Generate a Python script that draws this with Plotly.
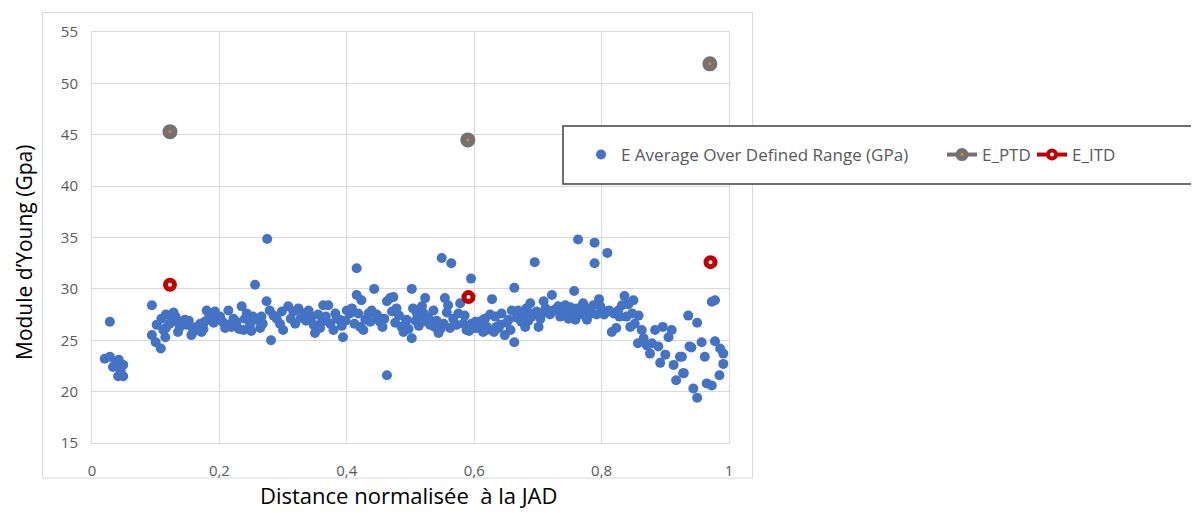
import plotly.graph_objects as go

# ---------------- data ----------------
avg_x = [
    0.020, 0.028, 0.028, 0.033, 0.037, 0.042, 0.041, 0.049, 0.049, 0.045,
    0.094, 0.094, 0.100, 0.108, 0.1015, 0.109, 0.116, 0.128, 0.122, 0.116,
    0.115, 0.133, 0.138, 0.135, 0.146, 0.149, 0.156, 0.159, 0.164, 0.170,
    0.172, 0.177, 0.180, 0.188, 0.193, 0.196, 0.201, 0.209, 0.214, 0.219,
    0.227, 0.235, 0.238, 0.243, 0.248, 0.256, 0.253, 0.266, 0.264, 0.275,
    0.274, 0.279, 0.281, 0.290, 0.295,
    0.300, 0.308, 0.316, 0.324, 0.332, 0.340, 0.345, 0.350, 0.355, 0.361,
    0.363, 0.371, 0.374, 0.379, 0.384, 0.389, 0.394, 0.400, 0.405, 0.408,
    0.4155, 0.4155, 0.423, 0.421, 0.429, 0.434, 0.439, 0.443, 0.447, 0.452,
    0.456, 0.463, 0.468, 0.473, 0.471, 0.478, 0.463, 0.486, 0.489, 0.494,
    0.502, 0.502, 0.504, 0.510, 0.515, 0.518, 0.523, 0.525, 0.531, 0.536,
    0.538, 0.544, 0.549, 0.552, 0.554, 0.559, 0.564, 0.567, 0.572, 0.578,
    0.583, 0.588, 0.595, 0.596, 0.604, 0.609, 0.614, 0.620, 0.628, 0.635,
    0.614, 0.620, 0.633, 0.638, 0.643, 0.648, 0.654, 0.659, 0.663, 0.663,
    0.669, 0.674, 0.680, 0.682, 0.688, 0.693, 0.695, 0.701, 0.706, 0.709,
    0.714, 0.722, 0.724, 0.732, 0.737, 0.743, 0.748, 0.753, 0.757, 0.763,
    0.761, 0.766, 0.771, 0.777, 0.779, 0.789, 0.789, 0.787, 0.796, 0.800,
    0.809, 0.808, 0.816, 0.823, 0.819, 0.826, 0.832, 0.836, 0.839, 0.845,
    0.850, 0.852, 0.857, 0.858, 0.863, 0.866, 0.871, 0.876, 0.879, 0.884,
    0.889, 0.892, 0.896, 0.900, 0.905, 0.910, 0.913, 0.917, 0.923, 0.928,
    0.936, 0.938,
    0.973, 0.978, 0.950, 0.941, 0.957, 0.978, 0.986, 0.991, 0.991, 0.962,
    0.926, 0.929, 0.985, 0.965, 0.973, 0.944, 0.950,
    0.112, 0.125, 0.131, 0.141, 0.152, 0.161, 0.168, 0.175, 0.184, 0.191,
    0.205, 0.212, 0.222, 0.231, 0.240, 0.250, 0.259, 0.268, 0.285, 0.298,
    0.312, 0.319, 0.328, 0.336, 0.348, 0.358, 0.367, 0.382, 0.392, 0.398,
    0.412, 0.418, 0.426, 0.437, 0.450, 0.459, 0.476, 0.482, 0.492, 0.497,
    0.508, 0.513, 0.521, 0.528, 0.541, 0.547, 0.557, 0.562, 0.575, 0.585,
    0.592, 0.599,
    0.602, 0.611, 0.617, 0.625, 0.631, 0.641, 0.651, 0.657, 0.667, 0.677,
    0.685, 0.690, 0.698,
    0.704, 0.712, 0.719, 0.727, 0.735, 0.741, 0.751, 0.759, 0.769, 0.774,
    0.784, 0.792, 0.798,
    0.804, 0.812, 0.828, 0.842, 0.848,
]
avg_y = [
    23.2, 23.4, 26.8, 22.4, 22.8, 23.1, 21.5, 22.6, 21.5, 22.0,
    28.4, 25.5, 24.8, 24.2, 26.5, 27.1, 27.5, 27.7, 26.6, 26.2,
    25.3, 26.8, 26.3, 25.8, 27.0, 26.5, 25.5, 26.0, 26.3, 26.6,
    25.8, 26.8, 27.9, 27.6, 27.8, 27.0, 27.3, 26.2, 27.9, 26.3,
    26.8, 28.3, 26.0, 27.6, 26.5, 30.4, 27.3, 27.3, 26.2, 34.85,
    28.8, 27.9, 25.0, 27.1, 26.6,
    26.0, 28.3, 27.8, 28.1, 27.6, 27.9, 27.3, 25.7, 27.5, 26.8,
    28.4, 28.4, 26.6, 26.0, 27.1, 27.0, 25.3, 27.9, 27.6, 28.1,
    32.0, 29.4, 28.9, 26.3, 27.0, 27.6, 27.9, 30.0, 27.5, 26.8,
    26.3, 28.8, 29.1, 29.2, 27.8, 28.1, 21.6, 26.3, 25.8, 27.0,
    30.0, 25.2, 28.1, 27.6, 27.3, 28.3, 29.1, 26.8, 26.5, 27.9,
    26.3, 25.7, 33.0, 26.6, 29.1, 28.4, 32.5, 27.1, 26.5, 28.6,
    26.6, 26.0, 31.0, 26.6, 26.2, 26.8, 25.8, 26.3, 29.0, 26.3,
    27.0, 26.0, 27.3, 26.2, 27.6, 25.5, 27.0, 27.9, 30.1, 24.8,
    27.9, 26.8, 26.3, 28.1, 28.6, 27.6, 32.6, 26.3, 27.6, 28.8,
    27.9, 29.4, 27.9, 28.3, 27.8, 28.4, 27.1, 27.6, 29.8, 34.8,
    28.1, 27.5, 28.6, 27.0, 27.8, 34.5, 32.5, 28.4, 29.0, 27.9,
    33.5, 27.8, 25.8, 26.2, 27.6, 27.9, 28.4, 29.3, 27.3, 26.3,
    28.9, 26.6, 24.7, 27.4, 26.0, 25.2, 24.5, 23.7, 24.7, 26.0,
    24.4, 22.8, 26.3, 23.6, 25.3, 26.0, 22.6, 21.1, 23.4, 21.8,
    27.4, 24.4,
    28.75, 28.9, 26.7, 24.3, 24.8, 24.9, 24.2, 23.7, 22.7, 23.4,
    23.4, 21.8, 21.6, 20.8, 20.6, 20.3, 19.4,
    26.0, 26.9, 27.3, 26.8, 26.9, 25.9, 26.4, 26.1, 27.3, 26.7,
    26.8, 26.5, 27.1, 26.1, 27.1, 25.9, 27.0, 26.6, 27.4, 27.8,
    27.1, 26.6, 27.2, 26.9, 26.5, 26.2, 27.3, 27.6, 26.4, 26.9,
    26.6, 27.6, 26.0, 26.8, 27.2, 27.1, 26.7, 27.4, 26.6, 26.1,
    26.9, 26.4, 27.6, 27.2, 26.9, 26.1, 27.7, 26.2, 27.6, 27.4,
    25.9, 26.2,
    26.8, 26.5, 27.1, 27.5, 25.8, 26.5, 26.7, 26.0, 27.2, 27.6,
    26.9, 27.3, 27.8,
    27.1, 28.1, 27.5, 28.0, 27.3, 27.8, 28.2, 27.0, 27.9, 28.2,
    27.6, 27.5, 28.3,
    27.5, 27.9, 27.3, 28.5, 27.6,
]

ptd_x = [0.1224, 0.590, 0.970]
ptd_y = [45.3, 44.5, 51.9]

itd_x = [0.1224, 0.591, 0.971]
itd_y = [30.4, 29.2, 32.6]

x_tickvals = [0, 0.2, 0.4, 0.6, 0.8, 1]
x_ticktext = ["0", "0,2", "0,4", "0,6", "0,8", "1"]
y_tickvals = [15, 20, 25, 30, 35, 40, 45, 50, 55]
y_ticktext = ["15", "20", "25", "30", "35", "40", "45", "50", "55"]

names = ["E Average Over Defined Range (GPa)", "E_PTD", "E_ITD"]

# ---------------- styles ----------------
BLUE = "#4472C4"
GREY = "#767171"
ORANGE = "#ED7D31"
RED = "#C00000"
GRID = "#D9D9D9"
TXT = "#595959"
FONT = "Open Sans"

OFF = 8  # page body margin
W, H = 1199 - OFF, 513 - OFF
PL, PT, PR, PB = 92, 32, 729, 443  # plot area in page pixels
L, T = PL - OFF, PT - OFF
R, B = W - (PR - OFF), H - (PB - OFF)
PW, PH = W - L - R, H - T - B


def px(xp):
    return (xp - OFF - L) / PW


def py(yp):
    return (H - B - (yp - OFF)) / PH


fig = go.Figure()

fig.add_trace(go.Scatter(
    x=avg_x, y=avg_y, mode="markers", name=names[0], legend="legend",
    marker=dict(color=BLUE, size=10, line=dict(width=0)),
))
fig.add_trace(go.Scatter(
    x=ptd_x, y=ptd_y, mode="markers", name=names[1], showlegend=False,
    marker=dict(color=ORANGE, size=9, line=dict(color=GREY, width=6)),
))
fig.add_trace(go.Scatter(
    x=itd_x, y=itd_y, mode="markers", name=names[2], showlegend=False,
    marker=dict(color="white", size=9, line=dict(color=RED, width=5)),
))
# legend-only entries (line + marker, as in the original legend)
fig.add_trace(go.Scatter(
    x=[None], y=[None], mode="lines+markers", name=names[1], legend="legend2",
    line=dict(color=GREY, width=4),
    marker=dict(color=ORANGE, size=8, line=dict(color=GREY, width=5)),
))
fig.add_trace(go.Scatter(
    x=[None], y=[None], mode="lines+markers", name=names[2], legend="legend3",
    line=dict(color=RED, width=4),
    marker=dict(color="white", size=8, line=dict(color=RED, width=4)),
))

shapes = [
    dict(type="rect", xref="paper", yref="paper",
         x0=px(42.5), x1=px(752.5), y0=py(478), y1=py(12.5),
         line=dict(color=GRID, width=1), fillcolor="rgba(0,0,0,0)", layer="below"),
    dict(type="rect", xref="paper", yref="paper",
         x0=px(563), x1=px(1198), y0=py(184), y1=py(126),
         line=dict(color="#404040", width=1.5), fillcolor="white", layer="above"),
]

annotations = [
    dict(text="Distance normalisée  à la JAD", xref="paper", yref="paper",
         x=px(408), y=py(495), xanchor="center", yanchor="middle",
         showarrow=False, font=dict(family=FONT, size=22, color="black")),
    dict(text="Module d’Young (Gpa)", xref="paper", yref="paper",
         x=px(24), y=py(253), xanchor="center", yanchor="middle",
         textangle=-90, showarrow=False, font=dict(family=FONT, size=21, color="black")),
]

leg_common = dict(orientation="h", xanchor="left", yanchor="middle",
                  bgcolor="rgba(0,0,0,0)", borderwidth=0,
                  font=dict(family=FONT, size=17, color=TXT))

fig.update_layout(
    width=W, height=H, autosize=False,
    margin=dict(l=L, r=R, t=T, b=B),
    paper_bgcolor="white", plot_bgcolor="white",
    font=dict(family=FONT, size=14, color=TXT),
    shapes=shapes, annotations=annotations,
    showlegend=True,
    legend=dict(x=px(581), y=py(155), **leg_common),
    legend2=dict(x=px(942), y=py(155), **leg_common),
    legend3=dict(x=px(1032), y=py(155), **leg_common),
)
fig.update_xaxes(range=[0, 1], tickvals=x_tickvals, ticktext=x_ticktext,
                 showgrid=True, gridcolor=GRID, gridwidth=1, zeroline=False,
                 showline=True, linecolor=GRID, mirror=True, ticks="",
                 ticklabelstandoff=14, tickfont=dict(family=FONT, size=15, color=TXT))
fig.update_yaxes(range=[15, 55], tickvals=y_tickvals, ticktext=y_ticktext,
                 showgrid=True, gridcolor=GRID, gridwidth=1, zeroline=False,
                 showline=True, linecolor=GRID, mirror=True, ticks="",
                 ticklabelstandoff=10, tickfont=dict(family=FONT, size=15, color=TXT))

fig.write_html("out.html")
